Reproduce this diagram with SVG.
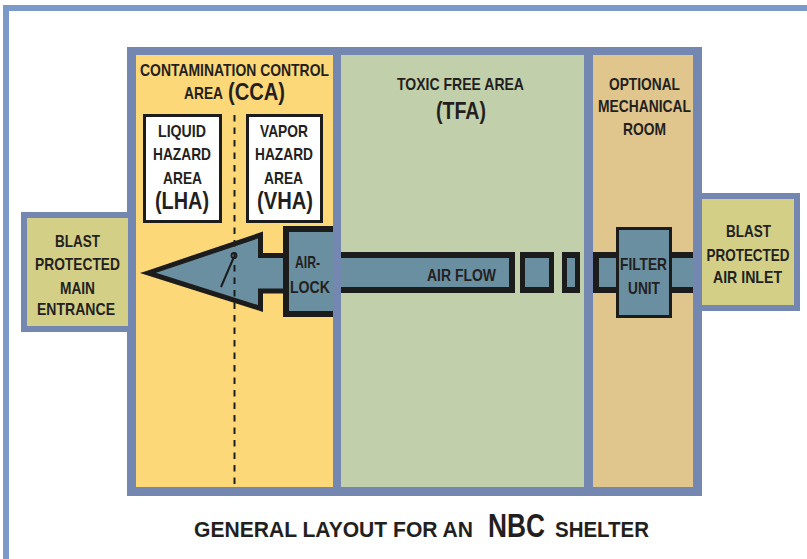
<svg xmlns="http://www.w3.org/2000/svg" width="807" height="559" viewBox="0 0 807 559">
<style>
text{font-family:"Liberation Sans Narrow","Liberation Sans",Arial,sans-serif;font-weight:bold;fill:#231f20;text-anchor:middle;font-size:17px}
.big{font-size:24px}
.t22{font-size:22px;text-anchor:start}
.t33{font-size:33px;text-anchor:start}
.t16{font-size:16px}
.border{fill:#7387b0}
.olive{fill:#d3cf87}
.duct{fill:#6a8fa0}
.blk{fill:#1c1c1c}
.box{fill:#fff;stroke:#1c1c1c;stroke-width:3}
</style>
<rect width="807" height="559" fill="#fff"/>
<g id="frame"><rect x="6" y="8" width="900" height="600" fill="none" stroke="#7b9ac9" stroke-width="6"/></g>
<g id="building">
<rect class="border" x="127" y="47" width="575" height="449"/>
</g>
<g id="cca"><rect x="136" y="55" width="197" height="432" fill="#fdd878"/>
<text x="234.5" y="76" textLength="189" lengthAdjust="spacingAndGlyphs">CONTAMINATION CONTROL</text>
<text x="203.5" y="99" textLength="39" lengthAdjust="spacingAndGlyphs">AREA</text>
<text class="big" x="256.5" y="100" textLength="57" lengthAdjust="spacingAndGlyphs">(CCA)</text>
</g>
<g id="tfa"><rect x="341" y="55" width="243" height="432" fill="#c2cfab"/>
<text x="460.5" y="90" textLength="127" lengthAdjust="spacingAndGlyphs">TOXIC FREE AREA</text>
<text class="big" x="461" y="119" textLength="50" lengthAdjust="spacingAndGlyphs">(TFA)</text>
</g>
<g id="mech"><rect x="593" y="55" width="100" height="432" fill="#e0c68c"/>
<text x="644.5" y="90" textLength="71" lengthAdjust="spacingAndGlyphs">OPTIONAL</text>
<text x="644.5" y="112" textLength="93" lengthAdjust="spacingAndGlyphs">MECHANICAL</text>
<text x="644.5" y="135" textLength="43" lengthAdjust="spacingAndGlyphs">ROOM</text>
</g>
<g id="entrance">
<rect class="border" x="21" y="212" width="115" height="120"/>
<rect class="olive" x="27" y="218" width="101" height="108"/>
<text x="77.5" y="247" textLength="45" lengthAdjust="spacingAndGlyphs">BLAST</text>
<text x="77.5" y="270" textLength="85" lengthAdjust="spacingAndGlyphs">PROTECTED</text>
<text x="77.5" y="294" textLength="35" lengthAdjust="spacingAndGlyphs">MAIN</text>
<text x="76" y="315" textLength="78" lengthAdjust="spacingAndGlyphs">ENTRANCE</text>
</g>
<g id="inlet">
<rect class="border" x="693" y="193" width="107" height="118"/>
<rect class="olive" x="702" y="199" width="92" height="106"/>
<text x="748.5" y="237" textLength="45" lengthAdjust="spacingAndGlyphs">BLAST</text>
<text x="748" y="261" textLength="83" lengthAdjust="spacingAndGlyphs">PROTECTED</text>
<text x="747.5" y="283" textLength="69" lengthAdjust="spacingAndGlyphs">AIR INLET</text>
</g>
<g id="lha">
<rect class="box" x="144.5" y="115.5" width="76" height="106"/>
<text x="182" y="137" textLength="48" lengthAdjust="spacingAndGlyphs">LIQUID</text>
<text x="182" y="160" textLength="58" lengthAdjust="spacingAndGlyphs">HAZARD</text>
<text x="182.5" y="184" textLength="39" lengthAdjust="spacingAndGlyphs">AREA</text>
<text class="big" x="182" y="209" textLength="54" lengthAdjust="spacingAndGlyphs">(LHA)</text>
</g>
<g id="vha">
<rect class="box" x="247.5" y="115.5" width="74" height="106"/>
<text x="284" y="137" textLength="48" lengthAdjust="spacingAndGlyphs">VAPOR</text>
<text x="284" y="160" textLength="58" lengthAdjust="spacingAndGlyphs">HAZARD</text>
<text x="283.5" y="184" textLength="39" lengthAdjust="spacingAndGlyphs">AREA</text>
<text class="big" x="285" y="209" textLength="56" lengthAdjust="spacingAndGlyphs">(VHA)</text>
</g>
<g id="connectors">
<rect class="blk" x="341" y="252" width="174" height="41"/>
<rect class="duct" x="341" y="258" width="168" height="29"/>
<rect class="blk" x="520" y="252" width="34" height="41"/>
<rect class="duct" x="525" y="258" width="24" height="29"/>
<rect class="blk" x="562" y="252" width="18" height="41"/>
<rect class="duct" x="567" y="258" width="8" height="29"/>
<rect class="blk" x="593" y="252" width="100" height="41"/>
<rect class="duct" x="599" y="258" width="94" height="29"/>
<text class="t16" x="461.5" y="281" textLength="69" lengthAdjust="spacingAndGlyphs">AIR FLOW</text>
<polygon class="duct" points="148,273 260.5,235 260.5,255.5 286,255.5 286,291 260.5,291 260.5,308.5" stroke="#1c1c1c" stroke-width="5" stroke-miterlimit="10"/>
<line x1="234.5" y1="115" x2="234.5" y2="489" stroke="#1c1c1c" stroke-width="2" stroke-dasharray="6.5 6"/>
<line x1="233.5" y1="258" x2="221" y2="287" stroke="#1c1c1c" stroke-width="2"/>
<circle cx="234" cy="255.5" r="2.5" fill="none" stroke="#1c1c1c" stroke-width="1.8"/>
</g>
<g id="airlock">
<rect class="blk" x="283" y="226" width="50" height="91"/>
<rect class="duct" x="289" y="232" width="44" height="79"/>
<text x="307.5" y="268" textLength="25" lengthAdjust="spacingAndGlyphs">AIR-</text>
<text x="310" y="293" textLength="40" lengthAdjust="spacingAndGlyphs">LOCK</text>
</g>
<g id="filter">
<rect class="duct" x="617.5" y="228.5" width="53" height="88" stroke="#1c1c1c" stroke-width="3"/>
<text x="643.5" y="270" textLength="47" lengthAdjust="spacingAndGlyphs">FILTER</text>
<text x="644" y="294" textLength="32" lengthAdjust="spacingAndGlyphs">UNIT</text>
</g>
<g id="title">
<text class="t22" x="194" y="537" textLength="279" lengthAdjust="spacingAndGlyphs">GENERAL LAYOUT FOR AN</text>
<text class="t33" x="488" y="537" textLength="57" lengthAdjust="spacingAndGlyphs">NBC</text>
<text class="t22" x="555" y="537" textLength="94" lengthAdjust="spacingAndGlyphs">SHELTER</text>
</g>
</svg>
